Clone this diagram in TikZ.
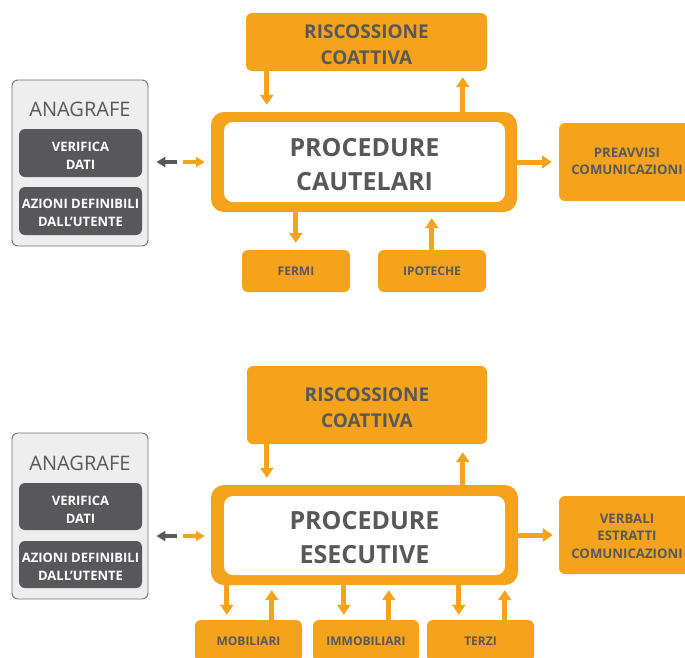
\documentclass[tikz,border=0pt]{standalone}
\usepackage{fontspec}
\setmainfont{Open Sans}
\usetikzlibrary{arrows.meta,calc}
\definecolor{orng}{HTML}{F5A31A}
\definecolor{dgray}{HTML}{58585B}
\definecolor{lgray}{HTML}{EEEEEE}
\definecolor{bgray}{HTML}{6D6E70}
\begin{document}
\begin{tikzpicture}[x=1pt,y=-1pt,
  obox/.style={fill=orng, rounded corners=6pt, inner sep=0pt, text=dgray, align=center},
  outerbox/.style={fill=orng, rounded corners=13pt, inner sep=0pt, minimum width=306pt, minimum height=100pt},
  innerbox/.style={fill=white, rounded corners=9pt, inner sep=0pt, minimum width=281pt, minimum height=80pt},
  maintxt/.style={inner sep=0pt, text=dgray, align=center, font=\fontsize{25}{34}\selectfont\bfseries},
  anabox/.style={fill=lgray, draw=bgray, line width=0.9pt, rounded corners=6pt, inner sep=0pt, minimum width=136pt, minimum height=166pt},
  darkbox/.style={fill=dgray, rounded corners=6pt, inner sep=0pt, minimum width=123pt, minimum height=48pt},
  darktxt/.style={inner sep=0pt, text=white, align=center, font=\fontsize{13}{18}\selectfont\bfseries},
  anatext/.style={inner sep=0pt, text=dgray, font=\fontsize{20}{24}\selectfont},
  bigtxt/.style={inner sep=0pt, text=dgray, align=center, font=\fontsize{19}{26}\selectfont\bfseries},
  midtxt/.style={inner sep=0pt, text=dgray, align=center, font=\fontsize{13.2}{16.5}\selectfont\bfseries},
  smalltxt/.style={font=\fontsize{12}{15}\selectfont\bfseries},
  oarr/.style={draw=orng, line width=5pt, -{Triangle[width=13pt,length=10pt]}},
  sarr/.style={line width=4pt, -{Triangle[width=10pt,length=9pt]}},
]
\useasboundingbox (0,0) rectangle (685,657);

% ---------- top section ----------
\node[obox, minimum width=241pt, minimum height=58pt] (r1) at (366.5,42) {};
\node[bigtxt] (r1t) at (366.5,45) {RISCOSSIONE\\COATTIVA};
\node[outerbox] (m1) at (364,162) {};
\node[innerbox] (m1i) at (364.5,162) {};
\node[maintxt] (m1t) at (364.5,164.5) {PROCEDURE\\CAUTELARI};
\node[obox, smalltxt, minimum width=108pt, minimum height=42pt] (fermi) at (296,271) {FERMI};
\node[obox, smalltxt, minimum width=108pt, minimum height=42pt] (ipo) at (432,271) {IPOTECHE};
\node[obox, minimum width=136pt, minimum height=78pt] (prea) at (627,162) {};
\node[midtxt] (preat) at (627,161.5) {PREAVVISI\\COMUNICAZIONI};
\node[anabox] (ana1) at (80,163) {};
\node[anatext] (anat1) at (80,109) {ANAGRAFE};
\node[darkbox] (ver1) at (80.5,153) {};
\node[darktxt] (ver1t) at (80.5,156) {VERIFICA\\DATI};
\node[darkbox] (az1) at (80.5,211) {};
\node[darktxt] (az1t) at (80.5,213) {AZIONI DEFINIBILI\\DALL’UTENTE};

\draw[oarr] ([xshift=21pt]r1.south west) -- ([xshift=56pt,yshift=7pt]m1.north west);
\draw[oarr] ([xshift=252pt]m1.north west) -- ([xshift=217pt,yshift=-6pt]r1.south west);
\draw[oarr] ([xshift=85pt]m1.south west) -- ([xshift=54pt,yshift=7pt]fermi.north west);
\draw[oarr] ([xshift=54pt]ipo.north west) -- ([xshift=221pt,yshift=-6pt]m1.south west);
\draw[oarr] (m1.east) -- ([xshift=-7pt]prea.west);
\draw[sarr, draw=dgray] ($(ana1.east |- m1.west)+(29,0)$) -- ($(ana1.east |- m1.west)+(8,0)$);
\draw[sarr, draw=orng] ($(m1.west)+(-28,0)$) -- ($(m1.west)+(-6,0)$);

% ---------- bottom section ----------
\node[obox, minimum width=240pt, minimum height=78pt] (r2) at (367,405) {};
\node[bigtxt] (r2t) at (367,408) {RISCOSSIONE\\COATTIVA};
\node[outerbox, minimum width=307pt] (m2) at (364.5,535) {};
\node[innerbox, minimum height=79pt] (m2i) at (364.5,535.5) {};
\node[maintxt] (m2t) at (364.5,537.5) {PROCEDURE\\ESECUTIVE};
\node[obox, minimum width=136pt, minimum height=78pt] (verb) at (627,535) {};
\node[midtxt, font=\fontsize{13.2}{17.5}\selectfont\bfseries] (verbt) at (627,536) {VERBALI\\ESTRATTI\\COMUNICAZIONI};
\node[obox, smalltxt, minimum width=107pt, minimum height=42pt] (mob) at (248.5,641) {MOBILIARI};
\node[obox, smalltxt, minimum width=106pt, minimum height=42pt] (imm) at (366,641) {IMMOBILIARI};
\node[obox, smalltxt, minimum width=107pt, minimum height=42pt] (ter) at (480.5,641) {TERZI};
\node[anabox] (ana2) at (80,516) {};
\node[anatext] (anat2) at (80,463) {ANAGRAFE};
\node[darkbox, minimum height=47pt] (ver2) at (80.5,506.5) {};
\node[darktxt] (ver2t) at (80.5,509.5) {VERIFICA\\DATI};
\node[darkbox, minimum height=47pt] (az2) at (80.5,564.5) {};
\node[darktxt] (az2t) at (80.5,566.5) {AZIONI DEFINIBILI\\DALL’UTENTE};

\draw[oarr] ([xshift=20pt]r2.south west) -- ([xshift=56pt,yshift=7pt]m2.north west);
\draw[oarr] ([xshift=252pt]m2.north west) -- ([xshift=216pt,yshift=-8pt]r2.south west);
\draw[oarr] (m2.east) -- ([xshift=-6pt]verb.west);
\draw[oarr] ([xshift=16pt]m2.south west) -- ([xshift=32pt,yshift=5pt]mob.north west);
\draw[oarr] ([xshift=77pt]mob.north west) -- ([xshift=61pt,yshift=-5pt]m2.south west);
\draw[oarr] ([xshift=133pt]m2.south west) -- ([xshift=31pt,yshift=5pt]imm.north west);
\draw[oarr] ([xshift=76pt]imm.north west) -- ([xshift=178pt,yshift=-5pt]m2.south west);
\draw[oarr] ([xshift=248pt]m2.south west) -- ([xshift=32pt,yshift=5pt]ter.north west);
\draw[oarr] ([xshift=78pt]ter.north west) -- ([xshift=294pt,yshift=-5pt]m2.south west);
\draw[sarr, draw=dgray] ($(ana2.east |- m2.west)+(29,1)$) -- ($(ana2.east |- m2.west)+(8,1)$);
\draw[sarr, draw=orng] ($(m2.west)+(-28,1)$) -- ($(m2.west)+(-6,1)$);
\end{tikzpicture}
\end{document}
